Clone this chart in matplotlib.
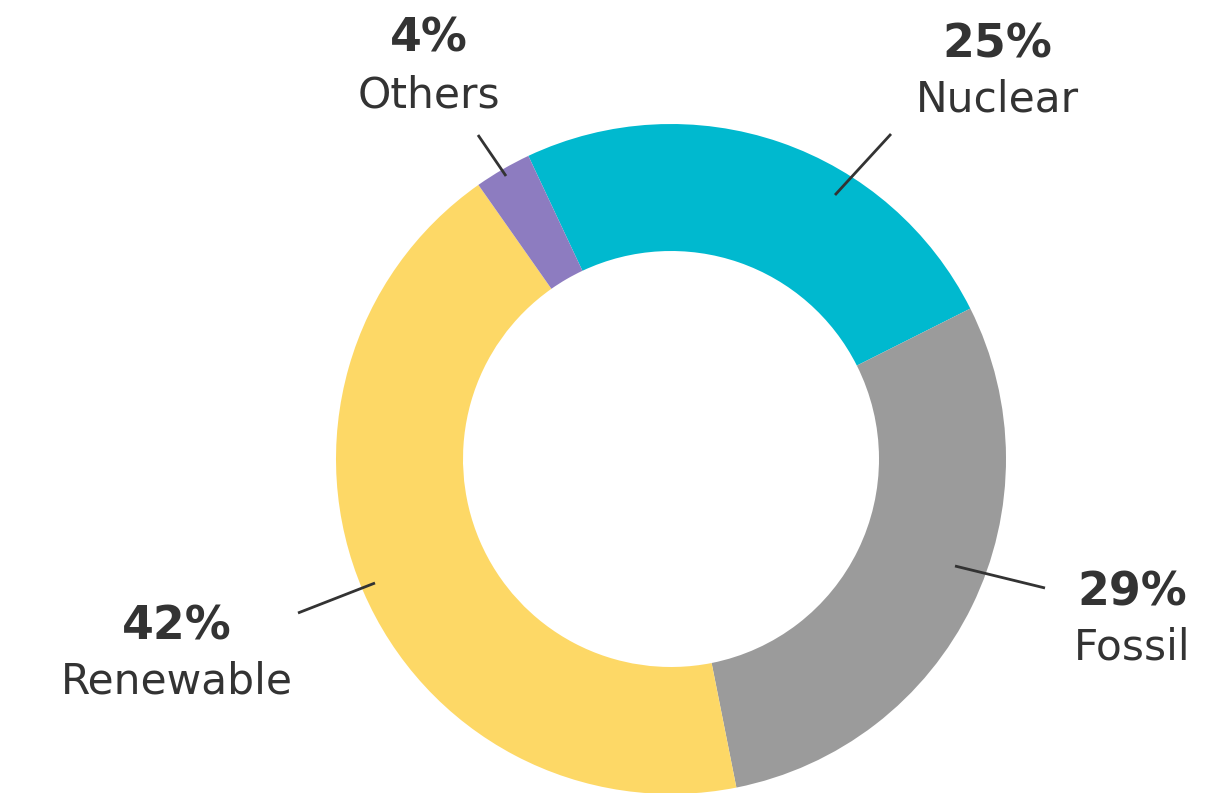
import matplotlib.pyplot as plt

# slice data (clockwise from the top-left)
names = ['Nuclear', 'Fossil', 'Renewable', 'Others']
pct_labels = ['25%', '29%', '42%', '4%']
shares = [24.6, 29.3, 43.4, 2.75]
colors = ['#00B9CF', '#9B9B9B', '#FDD866', '#8D7CC0']

# label placement (pixels, y measured from the bottom)
label_xy = [(997, 793 - 57), (1132, 793 - 605), (177, 793 - 639), (429, 793 - 52)]
leaders = [((835, 598), (891, 659)),
           ((955, 227), (1045, 205)),
           ((375, 210), (298, 180)),
           ((506, 617), (478, 658))]

fig = plt.figure(figsize=(12.3, 7.93), dpi=100)
ax = fig.add_axes([0, 0, 1, 1])

ax.pie(shares, colors=colors, startangle=115.2, counterclock=False,
       center=(671, 334), radius=335,
       wedgeprops=dict(width=127, linewidth=0))

ax.set_xlim(0, 1230)
ax.set_ylim(0, 793)
ax.set_aspect('equal')
ax.axis('off')

txt = '#333333'
for (x, y), pct, name in zip(label_xy, pct_labels, names):
    ax.text(x, y, pct, ha='center', va='baseline', fontsize=33,
            fontweight='bold', color=txt, family='DejaVu Sans')
    ax.text(x, y - 55, name, ha='center', va='baseline', fontsize=30.5,
            color=txt, family='DejaVu Sans')

for (x0, y0), (x1, y1) in leaders:
    ax.plot([x0, x1], [y0, y1], color=txt, linewidth=2, solid_capstyle='butt')

fig.savefig('out.png', dpi=100)
